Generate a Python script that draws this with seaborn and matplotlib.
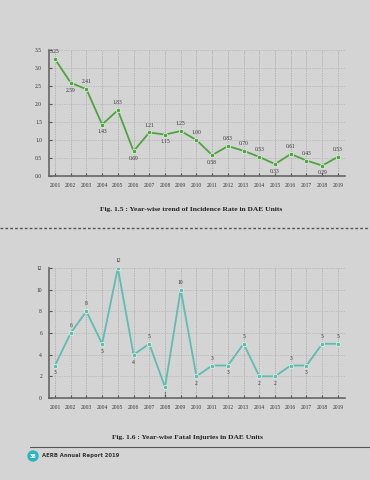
import pandas as pd
import matplotlib.pyplot as plt
import seaborn as sns
from matplotlib.patches import Circle

# Data
years = list(range(2001, 2020))
incidence_rate = [3.25, 2.59, 2.41, 1.43, 1.83, 0.69, 1.21, 1.15, 1.25, 1.00,
                  0.58, 0.83, 0.70, 0.53, 0.33, 0.61, 0.43, 0.29, 0.53]
incidence_labels = ['3.25', '2.59', '2.41', '1.43', '1.83', '0.69', '1.21', '1.15', '1.25', '1.00',
                    '0.58', '0.83', '0.70', '0.53', '0.33', '0.61', '0.43', '0.29', '0.53']
incidence_above = [1, 0, 1, 0, 1, 0, 1, 0, 1, 1, 0, 1, 1, 1, 0, 1, 1, 0, 1]

fatal_injuries = [3, 6, 8, 5, 12, 4, 5, 1, 10, 2, 3, 3, 5, 2, 2, 3, 3, 5, 5]
fatal_above = [0, 1, 1, 0, 1, 0, 1, 0, 1, 0, 1, 0, 1, 0, 0, 1, 0, 1, 1]

bg = '#d4d4d4'
sns.set_style('ticks', {'axes.facecolor': bg, 'figure.facecolor': bg})
plt.rcParams['font.family'] = ['Liberation Serif', 'DejaVu Serif']

fig = plt.figure(figsize=(3.7, 4.8), dpi=100)
fig.patch.set_facecolor(bg)


def draw_panel(rect, values, labels, above, color, ylim, yticks, yfmt):
    ax = fig.add_axes(rect)
    ax.set_facecolor(bg)
    df = pd.DataFrame({'Year': years, 'Value': values})
    sns.lineplot(data=df, x='Year', y='Value', ax=ax, color=color, lw=1.3,
                 marker='o', markersize=3.2, markerfacecolor=color,
                 markeredgecolor='#e8f5e8', markeredgewidth=0.5, zorder=3)
    for x, y, s, up in zip(years, values, labels, above):
        ax.annotate(s, (x, y), textcoords='offset points',
                    xytext=(0, 3.5 if up else -3.5), ha='center',
                    va='bottom' if up else 'top', fontsize=4, color='#333333')
    ax.set_xlim(2000.62, 2019.45)
    ax.set_ylim(*ylim)
    ax.set_xticks(years)
    ax.set_xticklabels([str(y) for y in years], fontsize=4, color='#333333')
    ax.set_yticks(yticks)
    ax.set_yticklabels([yfmt.format(t) for t in yticks], fontsize=4, color='#333333')
    ax.tick_params(axis='both', length=2, width=0.8, direction='in', pad=5, color='#555555')
    ax.grid(True, axis='x', color='#a6a6a6', lw=0.5, ls=(0, (2, 1.5)))
    ax.grid(True, axis='y', color='#b2b2b2', lw=0.5, ls=(0, (2, 1.5)))
    for side in ['top', 'right']:
        ax.spines[side].set_visible(False)
    for side in ['left', 'bottom']:
        ax.spines[side].set_color('#666666')
        ax.spines[side].set_linewidth(1.2)
    ax.set_xlabel('')
    ax.set_ylabel('')
    return ax


draw_panel([49 / 370, 1 - 176 / 480, 296 / 370, 126 / 480], incidence_rate,
           incidence_labels, incidence_above, '#4ea43e', (0, 3.5),
           [0, 0.5, 1.0, 1.5, 2.0, 2.5, 3.0, 3.5], '{:.1f}')

draw_panel([49 / 370, 1 - 398 / 480, 296 / 370, 130 / 480], fatal_injuries,
           [str(v) for v in fatal_injuries], fatal_above, '#5dbdb2', (0, 12),
           [0, 2, 4, 6, 8, 10, 12], '{:d}')

# Captions and page decorations
fig.text(191 / 370, 1 - 210 / 480, 'Fig. 1.5 : Year-wise trend of Incidence Rate in DAE Units',
         ha='center', va='center', fontsize=5.4, fontweight='bold', color='#222222')
fig.text(187 / 370, 1 - 437 / 480, 'Fig. 1.6 : Year-wise Fatal Injuries in DAE Units',
         ha='center', va='center', fontsize=5.4, fontweight='bold', color='#222222')

fig.add_artist(plt.Line2D([0, 1], [1 - 228 / 480, 1 - 228 / 480], transform=fig.transFigure,
                          color='#555555', lw=1.0, ls=(0, (2, 1.5))))
fig.add_artist(plt.Line2D([30 / 370, 1], [1 - 447 / 480, 1 - 447 / 480], transform=fig.transFigure,
                          color='#555555', lw=0.8))

fig.add_artist(Circle((33, 480 - 456), 5, transform=None, color='#2bb5c4'))
fig.text(33 / 370, 1 - 456 / 480, '38', ha='center', va='center', fontsize=3.5,
         fontweight='bold', color='white', family=['DejaVu Sans'])
fig.text(42 / 370, 1 - 456 / 480, 'AERB Annual Report 2019', ha='left', va='center',
         fontsize=3.8, fontweight='bold', color='#333333', family=['DejaVu Sans'])

fig.savefig('out.png', dpi=100, facecolor=bg)
